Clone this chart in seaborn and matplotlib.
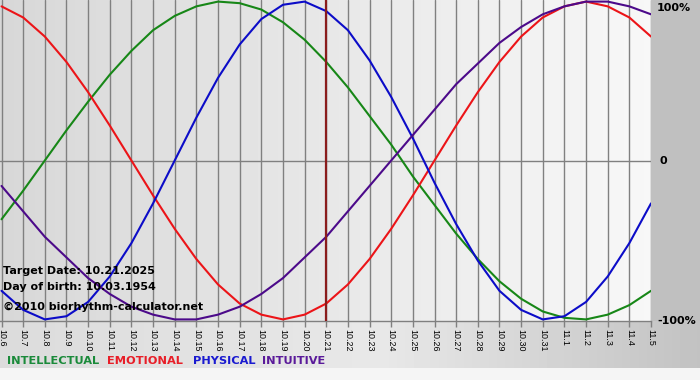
import numpy as np
import pandas as pd
import matplotlib
matplotlib.use('Agg')
import matplotlib.pyplot as plt
import seaborn as sns

# days shown, 10.6 .. 11.5
day_labels = ['10.6', '10.7', '10.8', '10.9', '10.10', '10.11', '10.12', '10.13',
              '10.14', '10.15', '10.16', '10.17', '10.18', '10.19', '10.20', '10.21',
              '10.22', '10.23', '10.24', '10.25', '10.26', '10.27', '10.28', '10.29',
              '10.30', '10.31', '11.1', '11.2', '11.3', '11.4', '11.5']
target_label = '10.21'

intellectual = [-0.37, -0.19, 0.00, 0.19, 0.37, 0.54, 0.69, 0.82, 0.91, 0.97, 1.00,
                0.99, 0.95, 0.87, 0.76, 0.62, 0.46, 0.28, 0.10, -0.10, -0.28, -0.46,
                -0.62, -0.76, -0.87, -0.95, -0.99, -1.00, -0.97, -0.91, -0.82]
emotional = [0.97, 0.90, 0.78, 0.62, 0.43, 0.22, 0.00, -0.22, -0.43, -0.62, -0.78,
             -0.90, -0.97, -1.00, -0.97, -0.90, -0.78, -0.62, -0.43, -0.22, 0.00, 0.22,
             0.43, 0.62, 0.78, 0.90, 0.97, 1.00, 0.97, 0.90, 0.78]
physical = [-0.82, -0.94, -1.00, -0.98, -0.89, -0.73, -0.52, -0.27, 0.00, 0.27, 0.52,
            0.73, 0.89, 0.98, 1.00, 0.94, 0.82, 0.63, 0.40, 0.14, -0.14, -0.40,
            -0.63, -0.82, -0.94, -1.00, -0.98, -0.89, -0.73, -0.52, -0.27]
intuitive = [-0.16, -0.32, -0.48, -0.61, -0.74, -0.84, -0.92, -0.97, -1.00, -1.00, -0.97,
             -0.92, -0.84, -0.74, -0.61, -0.48, -0.32, -0.16, 0.00, 0.16, 0.32, 0.48,
             0.61, 0.74, 0.84, 0.92, 0.97, 1.00, 1.00, 0.97, 0.92]

names = ['INTELLECTUAL', 'EMOTIONAL', 'PHYSICAL', 'INTUITIVE']
colors = {'INTELLECTUAL': '#178717', 'EMOTIONAL': '#ec1418',
          'PHYSICAL': '#0c0cc8', 'INTUITIVE': '#4c0a8a'}
legend_colors = ['#1a8a3a', '#e81e28', '#1a1ad0', '#5a1a9a']

sns.set_style('white')
plt.rcParams['font.family'] = ['DejaVu Sans']
plt.rcParams['text.color'] = 'black'

days = np.arange(len(day_labels))
df = pd.DataFrame({
    'day': np.tile(days, 4),
    'value': intellectual + emotional + physical + intuitive,
    'rhythm': np.repeat(names, len(days)),
})

W, H = 700, 380
fig = plt.figure(figsize=(7, 3.8), dpi=100)

# background: gradients like the original gif
bg = np.zeros((H, W))
cols = np.arange(W)
bg[:321, :651] = np.linspace(0.845, 0.97, 651)[None, :]
bg[:321, 651:] = 0.75
bg[321:368, :] = np.interp(cols, [0, 380, 700], [0.86, 0.91, 0.76])[None, :]
bg[368:, :] = 0.96
ax_bg = fig.add_axes([0, 0, 1, 1], zorder=-5)
ax_bg.imshow(bg, cmap='gray', vmin=0, vmax=1, aspect='auto', interpolation='nearest')
ax_bg.axis('off')

ax = fig.add_axes([0, 1 - 321 / H, 651 / W, 321 / H])
ax.patch.set_alpha(0)

for d in days:
    ax.axvline(d, color='#808080', lw=1.0, zorder=1)
ax.axhline(0, color='#808080', lw=1.0, zorder=1)

sns.lineplot(data=df, x='day', y='value', hue='rhythm', palette=colors,
             hue_order=names, lw=1.5, legend=False, ax=ax, zorder=3)

ax.axvline(day_labels.index(target_label), color='#8a1c1c', lw=1.6, zorder=4)

ax.set_xlim(-0.07, len(days) - 1)
ax.set_ylim(-1.01, 1.01)
ax.set_xticks(days)
ax.set_xticklabels(day_labels, rotation=270, fontsize=6.4, family='Liberation Sans',
                   color='black')
ax.set_yticks([])
ax.set_xlabel('')
ax.set_ylabel('')
ax.tick_params(axis='x', length=4, width=1, color='#808080', pad=2, direction='out', bottom=True)
for s in ['top', 'left', 'right']:
    ax.spines[s].set_visible(False)
ax.spines['bottom'].set_color('#808080')
ax.spines['bottom'].set_linewidth(1.0)

# right side percent labels
for txt, x, y in [('100%', 657, 8), ('0', 659, 161), ('-100%', 657, 321)]:
    fig.text(x / W, 1 - y / H, txt, ha='left', va='center',
             fontsize=8, fontweight='bold', color='black')

# info text over the plot
info = ['Target Date: 10.21.2025', 'Day of birth: 10.03.1954',
        '\u00a92010 biorhythm-calculator.net']
for txt, y in zip(info, [271, 287, 307]):
    fig.text(3 / W, 1 - y / H, txt, ha='left', va='center',
             fontsize=8, fontweight='bold', color='black')

# legend row
for name, c, x in zip(names, legend_colors, [7, 107, 193, 262]):
    fig.text(x / W, 1 - 361 / H, name, ha='left', va='center', color=c,
             fontsize=8.2, fontweight='bold')

fig.savefig('out.png', dpi=100)
